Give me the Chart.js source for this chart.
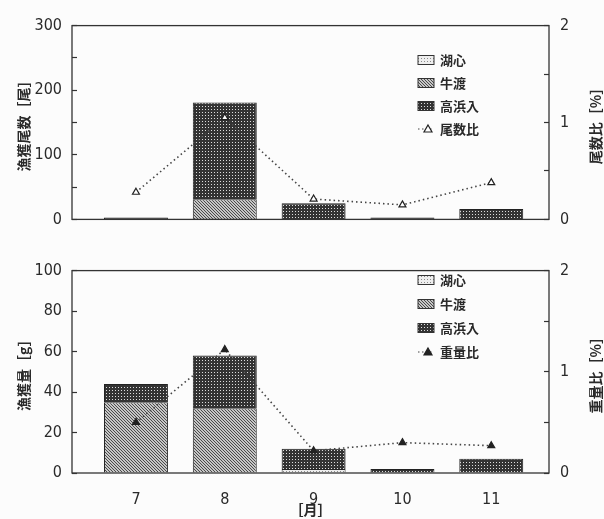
<!DOCTYPE html>
<html>
<head>
<meta charset="utf-8">
<script src="https://cdn.jsdelivr.net/npm/chart.js@4.4.0/dist/chart.umd.min.js"></script>
<style>
  html, body { margin: 0; padding: 0; background: #fcfcfc; }
  #wrap { width: 604px; height: 519px; }
  canvas { display: block; }
</style>
</head>
<body>
<div id="wrap">
  <canvas id="countChart" width="604" height="245"></canvas>
  <canvas id="weightChart" width="604" height="274"></canvas>
</div>
<script>
// months on the x axis
const months = [7, 8, 9, 10, 11];
const siteNames = ['湖心', '牛渡', '高浜入'];

// top panel: catch count [尾] and count ratio [%]
const countKoshin = [0, 0, 0, 0, 0];
const countUshiwata = [0, 31, 0, 0, 0];
const countTakahama = [3, 150, 25, 3, 16];
const countRatio = [0.28, 1.05, 0.21, 0.15, 0.38];

// bottom panel: catch weight [g] and weight ratio [%]
const weightKoshin = [0, 0, 2, 0, 0];
const weightUshiwata = [35, 32, 0, 0, 0];
const weightTakahama = [9, 26, 10, 2, 7];
const weightRatio = [0.50, 1.22, 0.22, 0.30, 0.27];

const numFont = { family: '"Liberation Sans Narrow", "DejaVu Sans Condensed", sans-serif', size: 16 };
const jpFont = { family: '"Noto Sans CJK JP", sans-serif', size: 14, weight: 'bold' };
const ink = '#2a2a2a';

// screen-tone fills like the printed figure
function makeTone(bg, fg, dots) {
    const c = document.createElement('canvas');
    c.width = 3; c.height = 3;
    const g = c.getContext('2d');
    g.fillStyle = bg;
    g.fillRect(0, 0, 3, 3);
    g.fillStyle = fg;
    dots.forEach(([x, y]) => g.fillRect(x, y, 1, 1));
    return g.createPattern(c, 'repeat');
}
const tones = [
    makeTone('#eeeeee', '#8a8a8a', [[1, 1]]),
    makeTone('#c6c6c6', '#4a4a4a', [[0, 0], [1, 1], [2, 2]]),
    makeTone('#333333', '#dddddd', [[1, 1]])
];

function toPoints(values) {
    return months.map((m, i) => ({ x: m, y: values[i] === 0 ? null : values[i] }));
}

const framePlugin = {
    id: 'frame',
    afterDatasetsDraw(chart) {
        const { ctx, chartArea: a } = chart;
        ctx.save();
        ctx.strokeStyle = '#333';
        ctx.lineWidth = 1.3;
        ctx.strokeRect(a.left, a.top, a.right - a.left, a.bottom - a.top);
        ctx.restore();
    }
};

const boxLegend = {
    id: 'boxLegend',
    afterDraw(chart, args, o) {
        const ctx = chart.ctx;
        ctx.save();
        ctx.font = 'bold 13px "Noto Sans CJK JP", sans-serif';
        ctx.textBaseline = 'middle';
        chart.data.datasets.forEach((ds, i) => {
            const y = o.y + i * o.gap;
            if (ds.type === 'line') {
                ctx.strokeStyle = ds.borderColor;
                ctx.lineWidth = 1.2;
                ctx.setLineDash([1.5, 2.5]);
                ctx.beginPath();
                ctx.moveTo(o.x, y);
                ctx.lineTo(o.x + 16, y);
                ctx.stroke();
                ctx.setLineDash([]);
                ctx.beginPath();
                ctx.moveTo(o.x + 10, y - 4);
                ctx.lineTo(o.x + 14, y + 3);
                ctx.lineTo(o.x + 6, y + 3);
                ctx.closePath();
                ctx.fillStyle = ds.pointBackgroundColor;
                ctx.fill();
                ctx.strokeStyle = ds.pointBorderColor;
                ctx.stroke();
            } else {
                ctx.fillStyle = ds.backgroundColor;
                ctx.fillRect(o.x, y - 4.5, 16, 9);
                ctx.strokeStyle = '#333';
                ctx.lineWidth = 1;
                ctx.strokeRect(o.x, y - 4.5, 16, 9);
            }
            ctx.fillStyle = ink;
            ctx.fillText(ds.label, o.x + 22, y);
        });
        ctx.restore();
    }
};

// right axis title reads bottom-to-top like the left one
const rightTitle = {
    id: 'rightTitle',
    afterDraw(chart, args, o) {
        const { ctx, chartArea: a } = chart;
        ctx.save();
        ctx.translate(o.x, (a.top + a.bottom) / 2);
        ctx.rotate(-Math.PI / 2);
        ctx.font = 'bold 14px "Noto Sans CJK JP", sans-serif';
        ctx.fillStyle = ink;
        ctx.textAlign = 'center';
        ctx.textBaseline = 'middle';
        ctx.fillText(o.text, 0, 0);
        ctx.restore();
    }
};

function buildChart(id, cfg) {
    const barSets = [cfg.koshin, cfg.ushiwata, cfg.takahama].map((vals, i) => ({
        type: 'bar',
        label: siteNames[i],
        data: toPoints(vals),
        backgroundColor: tones[i],
        borderColor: '#222',
        borderWidth: 1,
        barPercentage: 0.9,
        categoryPercentage: 0.8,
        yAxisID: 'y',
        order: 1,
    }));
    const lineSet = {
        type: 'line',
        label: cfg.ratioLabel,
        data: months.map((m, i) => ({ x: m, y: cfg.ratio[i] })),
        borderColor: '#444',
        borderWidth: 1.6,
        borderDash: [1.5, 3],
        pointStyle: 'triangle',
        pointRadius: 4,
        pointBackgroundColor: cfg.filled ? '#222' : '#fff',
        pointBorderColor: '#222',
        pointBorderWidth: 1.2,
        yAxisID: 'y1',
        order: 0,
    };

    return new Chart(document.getElementById(id), {
        data: { datasets: [...barSets, lineSet] },
        plugins: [framePlugin, boxLegend, rightTitle],
        options: {
            responsive: false,
            animation: false,
            layout: { padding: { top: cfg.top, left: 0, right: 0, bottom: 0 } },
            plugins: {
                legend: { display: false },
                tooltip: { enabled: false },
                boxLegend: { x: 418, y: cfg.legendY, gap: cfg.legendGap },
                rightTitle: { x: 596, text: cfg.rightTitle },
            },
            scales: {
                x: {
                    type: 'linear',
                    min: 6.28,
                    max: 11.65,
                    offset: false,
                    stacked: true,
                    afterBuildTicks: (s) => { s.ticks = months.map(v => ({ value: v })); },
                    grid: { display: false },
                    border: { display: false },
                    ticks: { display: cfg.showMonths, padding: 9, color: ink, font: numFont, callback: v => String(v) },
                    title: { display: cfg.showMonths, text: '［月］', color: ink, font: jpFont, padding: { top: 0, bottom: 1 } },
                    afterFit: (s) => { s.height = cfg.xHeight; },
                },
                y: {
                    position: 'left',
                    stacked: true,
                    min: 0,
                    max: cfg.yMax,
                    grid: { drawOnChartArea: false, tickLength: -5, color: '#333', tickWidth: 1.2 },
                    border: { display: false },
                    ticks: {
                        stepSize: cfg.yStep,
                        padding: 15,
                        color: ink,
                        font: numFont,
                        callback: v => (v % cfg.yLabelStep === 0 ? v : ''),
                    },
                    title: { display: true, text: cfg.leftTitle, color: ink, font: jpFont, padding: { top: 15, bottom: 0 } },
                    afterFit: (s) => { s.width = 72; },
                },
                y1: {
                    position: 'right',
                    min: 0,
                    max: 2,
                    grid: { drawOnChartArea: false, tickLength: -5, color: '#333', tickWidth: 1.2 },
                    border: { display: false },
                    ticks: {
                        stepSize: 0.5,
                        padding: 16,
                        color: ink,
                        font: numFont,
                        callback: v => (Number.isInteger(v) ? v : ''),
                    },
                    afterFit: (s) => { s.width = 55; },
                },
            },
        },
    });
}

buildChart('countChart', {
    koshin: countKoshin,
    ushiwata: countUshiwata,
    takahama: countTakahama,
    ratio: countRatio,
    ratioLabel: '尾数比',
    filled: false,
    yMax: 300,
    yStep: 50,
    yLabelStep: 100,
    leftTitle: '漁獲尾数［尾］',
    rightTitle: '尾数比［%］',
    top: 23,
    xHeight: 19,
    showMonths: false,
    legendY: 60,
    legendGap: 23,
});

buildChart('weightChart', {
    koshin: weightKoshin,
    ushiwata: weightUshiwata,
    takahama: weightTakahama,
    ratio: weightRatio,
    ratioLabel: '重量比',
    filled: true,
    yMax: 100,
    yStep: 10,
    yLabelStep: 20,
    leftTitle: '漁獲量［g］',
    rightTitle: '重量比［%］',
    top: 15,
    xHeight: 46,
    showMonths: true,
    legendY: 35,
    legendGap: 24,
});
</script>
</body>
</html>
